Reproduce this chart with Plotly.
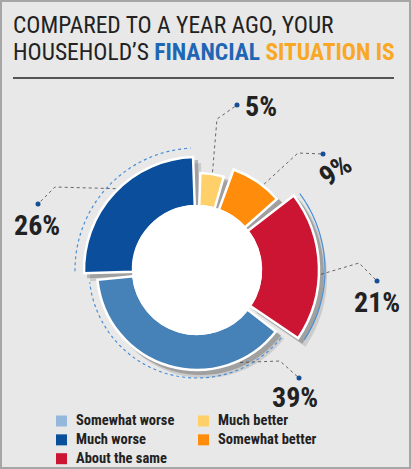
import numpy as np
import plotly.graph_objects as go

# survey answers, clockwise from 12 o'clock
categories = ["Much better", "Somewhat better", "About the same", "Somewhat worse", "Much worse"]
shares = [5, 9, 21, 39, 26]
labels = ["5%", "9%", "21%", "39%", "26%"]

# legend: two columns
legend_col1 = ["Somewhat worse", "Much worse", "About the same"]
legend_col2 = ["Much better", "Somewhat better"]

# styling
seg_colors = ["#ffd06a", "#ff8c0a", "#cc1433", "#4682b8", "#0b4f9c"]
legend_colors = {"Much better": "#ffd06a", "Somewhat better": "#ff8c0a", "About the same": "#cc1433",
                 "Somewhat worse": "#94b8dc", "Much worse": "#0b4f9c"}
outer_r = [97, 107, 122, 100, 113]
inner_r = 64
gap = 4.0
FONT = "Roboto Condensed, Roboto, sans-serif"
W, H = 411, 469
cx, cy, R = 197, 270, 135   # donut centre (px from top-left) and radial scale

# label / leader layout, pixel offsets from the centre (x right, y up)
label_pos = [(64, 164), (138, 100), (180, -32), (98, -127), (-160, 45)]
label_rot = [0, -35, 0, 0, 0]
leader_angle = [9, 38, 92, 155, 315]
leader_elbow = [(20, 151), (101, 117), (162, 7), (83, -91), (-142, 83)]
leader_dot = [(40, 165), (126, 116), (180, -11), (102, -108), (-159, 66)]

# legend layout in page pixels
legend_x = [61.5, 203.5]
legend_top = 421
legend_size = 14.5
line_h = legend_size * 1.3

shares = np.array(shares, dtype=float)
starts = np.concatenate([[0], np.cumsum(shares)[:-1]]) * 3.6
spans = shares * 3.6
mids = starts + spans / 2


def dom(dx=0, dy=0):
    return dict(x=[(cx - R + dx) / W, (cx + R + dx) / W],
                y=[(H - cy - R - dy) / H, (H - cy + R - dy) / H])


def polar_layout(dx=0, dy=0):
    return dict(domain=dom(dx, dy), bgcolor="rgba(0,0,0,0)",
                radialaxis=dict(range=[0, R], visible=False),
                angularaxis=dict(rotation=90, direction="clockwise", visible=False))


fig = go.Figure()

# soft drop shadow: two offset layers underneath
for sp, alpha in [("polar", 0.16), ("polar2", 0.3)]:
    fig.add_trace(go.Barpolar(
        theta=mids, width=spans - gap + 1, base=[inner_r] * 5, r=np.array(outer_r) - inner_r + 1,
        marker=dict(color=f"rgba(60,60,60,{alpha})", line=dict(width=0)),
        subplot=sp, showlegend=False, hoverinfo="skip"))

# donut segments
fig.add_trace(go.Barpolar(
    theta=mids, width=spans - gap, base=[inner_r] * 5, r=np.array(outer_r) - inner_r,
    marker=dict(color=seg_colors, line=dict(color="white", width=2.5)),
    text=categories, hoverinfo="text", subplot="polar3", showlegend=False))

# white centre
fig.add_trace(go.Barpolar(
    theta=[0], width=[360], base=[0], r=[inner_r + 1],
    marker=dict(color="white", line=dict(width=0)),
    subplot="polar3", showlegend=False, hoverinfo="skip"))

# decorative arcs beside three segments
arcs = [(4, 122, "dot"), (3, 108, "dot"), (2, 128, "solid")]
for i, rr, dash in arcs:
    th = np.linspace(starts[i] + 3, starts[i] + spans[i] - 3, 80)
    fig.add_trace(go.Scatterpolar(
        theta=th, r=[rr] * len(th), mode="lines",
        line=dict(color="#4a8fd6", width=1.2, dash=dash),
        subplot="polar3", showlegend=False, hoverinfo="skip"))

# leader lines with dots, on an invisible pixel-scaled cartesian overlay
for i in range(5):
    a = np.radians(leader_angle[i])
    r0 = outer_r[i] + 2
    xs = [r0 * np.sin(a), leader_elbow[i][0], leader_dot[i][0]]
    ys = [r0 * np.cos(a), leader_elbow[i][1], leader_dot[i][1]]
    fig.add_trace(go.Scatter(x=xs, y=ys, mode="lines",
                             line=dict(color="#666666", width=1, dash="dot"),
                             showlegend=False, hoverinfo="skip"))
    fig.add_trace(go.Scatter(x=[leader_dot[i][0]], y=[leader_dot[i][1]], mode="markers",
                             marker=dict(color="#174f97", size=5),
                             showlegend=False, hoverinfo="skip"))
    fig.add_annotation(x=label_pos[i][0], y=label_pos[i][1], text=f"<b>{labels[i]}</b>",
                       showarrow=False, textangle=label_rot[i],
                       font=dict(family=FONT, size=28, color="#222222"))

# legend: square swatches plus one bold text block per column
for col, names in enumerate([legend_col1, legend_col2]):
    lx = legend_x[col] - cx
    rows = [cy - (legend_top + k * line_h) for k in range(len(names))]
    fig.add_trace(go.Scatter(x=[lx] * len(names), y=rows, mode="markers", text=names,
                             marker=dict(symbol="square", size=11,
                                         color=[legend_colors[n] for n in names]),
                             showlegend=False, hoverinfo="text"))
    fig.add_annotation(x=lx + 12, y=sum(rows) / len(rows), showarrow=False,
                       text="<br>".join(f"<b>{n}</b>" for n in names),
                       xanchor="left", yanchor="middle", align="left",
                       font=dict(family=FONT, size=legend_size, color="#222222"))

# two-line title
title_lines = ["COMPARED TO A YEAR AGO, YOUR",
               "HOUSEHOLD’S <b><span style='color:#1f66b5'>FINANCIAL</span> "
               "<span style='color:#f8a823'>SITUATION IS</span></b>"]
for line, ypx in zip(title_lines, [25, 52]):
    fig.add_annotation(xref="paper", yref="paper", x=11 / W, y=1 - ypx / H,
                       xanchor="left", yanchor="middle", showarrow=False, text=line,
                       font=dict(family=FONT, size=23.5, color="#222222"))

fig.update_layout(
    width=W, height=H, margin=dict(l=0, r=0, t=0, b=0),
    paper_bgcolor="#e8e8e8", plot_bgcolor="rgba(0,0,0,0)", showlegend=False,
    xaxis=dict(range=[-cx, W - cx], visible=False, fixedrange=True),
    yaxis=dict(range=[cy - H, cy], visible=False, fixedrange=True),
    polar=polar_layout(7, 7),
    polar2=polar_layout(4, 4),
    polar3=polar_layout(),
    shapes=[
        dict(type="line", xref="paper", yref="paper", x0=13 / W, x1=394 / W,
             y0=1 - 78 / H, y1=1 - 78 / H, line=dict(color="#555555", width=2)),
        dict(type="rect", xref="paper", yref="paper", x0=0, x1=1, y0=0, y1=1,
             line=dict(color="#a6a6a6", width=4)),
    ],
)

fig.write_html("out.html", config={"displayModeBar": False},
               post_script="document.body.style.margin='0';")
